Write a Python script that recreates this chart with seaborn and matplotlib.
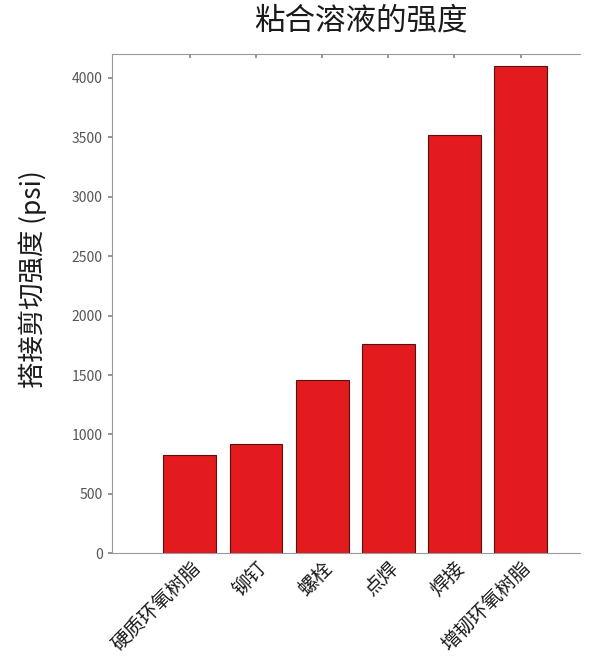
import seaborn as sns
import matplotlib.pyplot as plt
import pandas as pd

categories = ['硬质环氧树脂', '铆钉', '螺栓', '点焊', '焊接', '增韧环氧树脂']
strength = [830, 920, 1460, 1760, 3520, 4100]

df = pd.DataFrame({'method': categories, 'psi': strength})

sns.set_theme(style='white')
plt.rcParams['font.family'] = ['Noto Sans CJK SC', 'DejaVu Sans']
plt.rcParams['text.color'] = '#1a1a1a'
plt.rcParams['axes.labelcolor'] = '#1a1a1a'

fig = plt.figure(figsize=(5.95, 6.61), dpi=100)
ax = fig.add_axes([0.188, 0.163, 0.787, 0.755])

sns.barplot(data=df, x='method', y='psi', color='#E31B1F', saturation=1,
            edgecolor='#5a1010', linewidth=0.8, width=0.8, ax=ax)

ax.set_xlim(-1.18, 5.9)
ax.set_ylim(0, 4200)
ax.set_yticks(range(0, 4001, 500))
ax.tick_params(axis='y', labelsize=10, labelcolor='#555555', length=3, color='#888888', left=True)
ax.tick_params(axis='x', labelsize=14, labelcolor='#1a1a1a', direction='in', top=True, bottom=False,
               length=3, color='#888888', pad=3)
plt.setp(ax.get_xticklabels(), rotation=45, ha='right', rotation_mode='anchor')

for side in ['left', 'bottom', 'top']:
    ax.spines[side].set_color('#999999')
    ax.spines[side].set_linewidth(0.8)
ax.spines['right'].set_visible(False)

ax.set_xlabel('')
ax.set_ylabel('搭接剪切强度 (psi)', fontsize=19)
ax.yaxis.set_label_coords(-0.139, 0.549)
fig.text(0.607, 0.968, '粘合溶液的强度', ha='center', va='center', fontsize=22)

fig.savefig('out.png', dpi=100)
